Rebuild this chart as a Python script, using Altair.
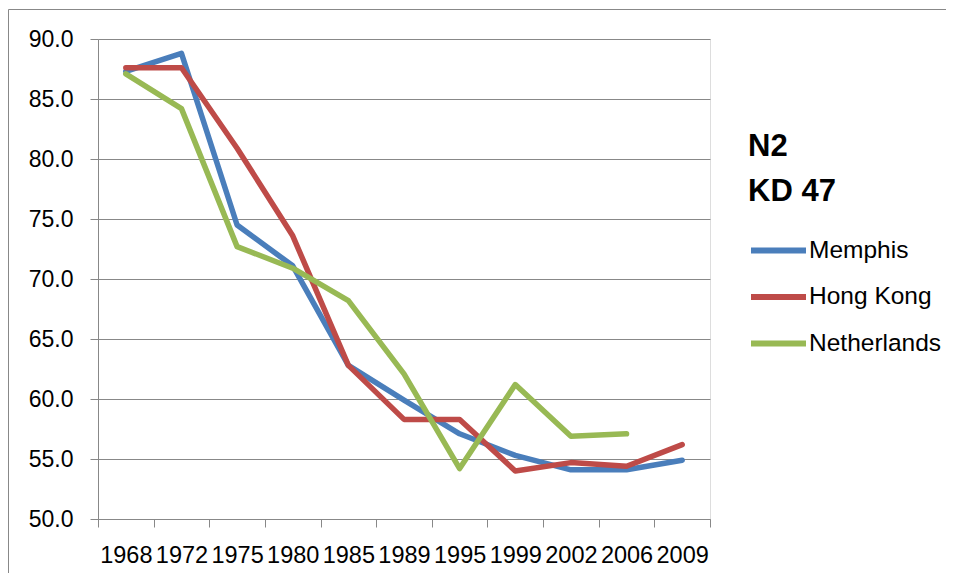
import altair as alt
import pandas as pd

years = ["1968", "1972", "1975", "1980", "1985", "1989", "1995", "1999", "2002", "2006", "2009"]
memphis = [87.3, 88.8, 74.5, 71.1, 62.8, 59.9, 57.1, 55.3, 54.1, 54.1, 54.9]
hong_kong = [87.6, 87.6, 80.9, 73.6, 62.8, 58.3, 58.3, 54.0, 54.7, 54.4, 56.2]
netherlands = [87.1, 84.2, 72.7, 70.9, 68.2, 62.1, 54.2, 61.2, 56.9, 57.1, None]

series_names = ["Memphis", "Hong Kong", "Netherlands"]
series_colors = ["#4A7EBB", "#BE4B48", "#98B954"]
y_ticks = [50, 55, 60, 65, 70, 75, 80, 85, 90]

rows = []
for name, vals in zip(series_names, [memphis, hong_kong, netherlands]):
    for yr, v in zip(years, vals):
        rows.append({"year": yr, "value": v, "series": name})
df = pd.DataFrame(rows)

FONT = "Liberation Sans"
GRID = "#888888"

lines = alt.Chart(df).mark_line(strokeWidth=5.5, strokeCap="round", strokeJoin="round").encode(
    x=alt.X("year:O", sort=years, bandPosition=0.5,
            scale=alt.Scale(type="band", paddingInner=0, paddingOuter=0),
            axis=alt.Axis(title=None, labelAngle=0, tickBand="extent", tickSize=8,
                          labelPadding=16, labelFontSize=23.5, labelColor="#000000",
                          labelFont=FONT, labelOverlap=False, domainColor=GRID,
                          tickColor=GRID, grid=False)),
    y=alt.Y("value:Q", scale=alt.Scale(domain=[50, 90], nice=False, zero=False),
            axis=alt.Axis(title=None, values=y_ticks, format=".1f", grid=True,
                          gridColor=GRID, gridWidth=1, domainColor=GRID, tickColor=GRID,
                          tickSize=8, labelPadding=17, labelFontSize=23,
                          labelColor="#000000", labelFont=FONT)),
    color=alt.Color("series:N",
                    scale=alt.Scale(domain=series_names, range=series_colors),
                    legend=alt.Legend(orient="none", legendX=650, legendY=93,
                                      title=["N2", "KD 47"], titleFontSize=31,
                                      titleFontWeight="bold", titleFont=FONT,
                                      titleColor="#000000", titleLineHeight=45,
                                      titlePadding=12, padding=0,
                                      symbolType="stroke", symbolSize=3025,
                                      symbolStrokeWidth=6, labelFontSize=24.5,
                                      labelFont=FONT, labelColor="#000000",
                                      labelOffset=0, rowPadding=3.5)),
)

border = alt.Chart(alt.Data(values=[{}])).mark_rule(color="#888888", strokeWidth=1).encode(
    x=alt.value(-89.5), y=alt.value(-29.5), y2=alt.value(560)
)
border_top = alt.Chart(alt.Data(values=[{}])).mark_rule(color="#888888", strokeWidth=1).encode(
    x=alt.value(-89.5), x2=alt.value(900), y=alt.value(-29.5)
)

chart = alt.layer(border, border_top, lines).properties(
    width=612, height=480,
    autosize=alt.AutoSizeParams(type="none"),
    padding={"left": 90, "top": 31, "right": 236, "bottom": 54},
).configure_view(stroke=None).configure(font=FONT)

chart.save("out.html", embed_options={"renderer": "svg", "actions": False})
